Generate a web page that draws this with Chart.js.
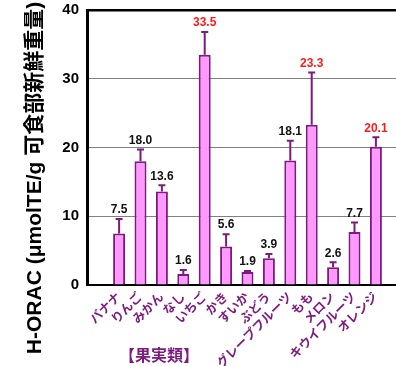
<!DOCTYPE html>
<html>
<head>
<meta charset="utf-8">
<script src="https://cdn.jsdelivr.net/npm/chart.js@4/dist/chart.umd.min.js"></script>
<style>
    html, body { margin: 0; padding: 0; background: #fff; overflow: hidden; width: 396px; height: 366px; }
    #wrap { width: 408px; height: 366px; }
</style>
</head>
<body>
<div id="wrap"><canvas id="oracChart"></canvas></div>
<script>
// fruit categories (first and last slots are left empty, like the original)
const fruits = ['バナナ', 'りんご', 'みかん', 'なし', 'いちご', 'かき', 'すいか', 'ぶどう',
    'グレープフルーツ', 'もも', 'メロン', 'キウイフルーツ', 'オレンジ'];
const oracValues = [7.5, 18.0, 13.6, 1.6, 33.5, 5.6, 1.9, 3.9, 18.1, 23.3, 2.6, 7.7, 20.1];
const oracErrors = [2.1, 1.7, 0.9, 0.6, 3.3, 1.8, 0.15, 0.6, 2.9, 7.6, 0.7, 1.4, 1.4];
const highlighted = ['いちご', 'もも', 'オレンジ'];
const yTicks = [0, 10, 20, 30, 40];

const labels = [''].concat(fruits, ['']);
const values = [null].concat(oracValues, [null]);
const errors = [null].concat(oracErrors, [null]);

const PURPLE = '#7d1a7d';
const FONT = '"Liberation Sans", "Noto Sans CJK JP", sans-serif';

// error bars + value labels above them
const errorBars = {
    id: 'errorBars',
    afterDatasetsDraw(chart) {
        const ctx = chart.ctx;
        const meta = chart.getDatasetMeta(0);
        const y = chart.scales.y;
        ctx.save();
        meta.data.forEach((bar, i) => {
            if (values[i] == null) return;
            const top = y.getPixelForValue(values[i] + errors[i]);
            ctx.strokeStyle = PURPLE;
            ctx.lineWidth = 2;
            ctx.beginPath();
            ctx.moveTo(bar.x, bar.y);
            ctx.lineTo(bar.x, top);
            ctx.moveTo(bar.x - 3.5, top);
            ctx.lineTo(bar.x + 3.5, top);
            ctx.stroke();

            ctx.font = 'bold 12px ' + FONT;
            ctx.textAlign = 'center';
            ctx.textBaseline = 'bottom';
            ctx.fillStyle = highlighted.includes(labels[i]) ? '#ff1a1a' : '#111';
            ctx.fillText(values[i].toFixed(1), bar.x, top - 3);
        });
        ctx.restore();
    }
};

// axis titles placed like the original figure
const titles = {
    id: 'titles',
    afterDraw(chart) {
        const ctx = chart.ctx;
        ctx.save();
        ctx.translate(35, 178);
        ctx.rotate(-Math.PI / 2);
        ctx.font = 'bold 21px ' + FONT;
        ctx.fillStyle = '#000';
        ctx.textAlign = 'center';
        ctx.textBaseline = 'middle';
        ctx.fillText('H-ORAC (μmolTE/g 可食部新鮮重量)', 0, 0);
        ctx.restore();

        ctx.save();
        ctx.font = 'bold 16px ' + FONT;
        ctx.fillStyle = PURPLE;
        ctx.textAlign = 'center';
        ctx.textBaseline = 'middle';
        ctx.fillText('【果実類】', 159, 357);
        ctx.restore();
    }
};

new Chart(document.getElementById('oracChart').getContext('2d'), {
    type: 'bar',
    data: {
        labels: labels,
        datasets: [{
            data: values,
            backgroundColor: '#ff99ff',
            borderColor: PURPLE,
            borderWidth: 2,
            categoryPercentage: 1,
            barPercentage: 0.56
        }]
    },
    options: {
        responsive: true,
        maintainAspectRatio: false,
        animation: false,
        layout: { padding: { top: 10, left: 0, right: 0, bottom: 0 } },
        plugins: {
            legend: { display: false },
            tooltip: { enabled: false }
        },
        scales: {
            x: {
                afterFit(scale) { scale.height = 81; },
                grid: { display: false },
                border: { color: '#000', width: 2 },
                ticks: {
                    autoSkip: false,
                    minRotation: 45,
                    maxRotation: 45,
                    padding: -3,
                    color: PURPLE,
                    font: { family: FONT, size: 12.5, weight: 'bold' }
                }
            },
            y: {
                min: 0,
                max: 40,
                afterFit(scale) {
                    scale.width = 87;
                    scale.paddingTop = 0;
                    scale.paddingBottom = 0;
                },
                afterBuildTicks(scale) { scale.ticks = yTicks.map(v => ({ value: v })); },
                border: { color: '#000', width: 3 },
                grid: {
                    drawTicks: false,
                    color: c => c.tick.value === 40 ? '#000' : (c.tick.value === 0 ? 'rgba(0,0,0,0)' : '#808080'),
                    lineWidth: c => c.tick.value === 40 ? 2.5 : 1
                },
                ticks: {
                    padding: 8,
                    color: '#000',
                    font: { family: FONT, size: 15, weight: 'bold' }
                }
            }
        }
    },
    plugins: [errorBars, titles]
});
</script>
</body>
</html>
